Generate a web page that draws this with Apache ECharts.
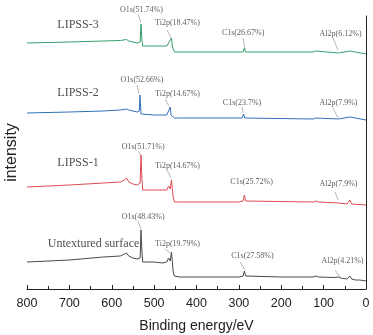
<!DOCTYPE html>
<html><head><meta charset="utf-8">
<script src="https://cdn.jsdelivr.net/npm/echarts@6/dist/echarts.min.js"></script>
<style>html,body{margin:0;padding:0;background:#fff}#c{width:373px;height:335px}</style>
</head><body><div id="c"></div>
<script>
// Binding energy (eV) and stacked intensity (a.u.) for each spectrum
const untextured = [[800,27],[700,29],[620,32],[580,33],[570,35],[565,36],[560,33],[550,31],[540,30],[536,28],[533,31],[531,59],[529,39],[527,27],[500,27],[480,26],[470,27],[466,31],[462,28],[459,37],[457,27],[455,17],[452,13],[440,12],[400,12],[300,12],[290,13],[287,18],[284,13],[280,12],[200,12],[125,12],[118,13],[112,12],[75,11.5],[65,12],[60,11],[45,10],[38,13],[34,10],[25,9],[15,9],[0,8]];
const lipss1 = [[800,102],[700,104],[620,106],[580,107],[570,109],[565,111],[560,107],[550,105],[540,104],[536,102],[533,106],[531,134],[529,112],[527,99],[500,99],[470,99],[466,103],[462,100],[459,109],[457,100],[455,92],[452,87],[440,87],[300,87],[290,88],[287,94],[284,88],[280,87],[125,87],[118,88],[112,87],[65,86],[45,85],[38,89],[34,85],[0,84]];
const lipss2 = [[800,176],[700,177],[620,178],[580,179],[565,180],[560,179],[550,178],[540,177],[537,176],[535,178],[533.5,194],[531,175],[528,174],[500,174],[470,174],[467,177],[464,175],[462,182],[460,174],[457,172],[452,171],[440,171],[300,171],[292,171],[289,175],[286,171],[125,170],[118,171],[65,170],[38,172],[34,170],[0,169]];
const lipss3 = [[800,246],[700,247],[620,248],[580,248.5],[565,249.5],[560,248],[540,246],[536,245],[533,247],[531,265],[529,250],[527,243],[500,243],[470,243],[466,246],[462,244],[459,251],[457,243],[455,240],[452,237],[300,237],[290,237],[287,241],[284,237],[125,237],[118,238],[65,236],[38,238],[34,236],[0,235]];

const seriesNames = [[679.6,264,'LIPSS-3'],[679.6,196,'LIPSS-2'],[679.6,126,'LIPSS-1'],[643,45,'Untextured surface']];
const peakLabels = [
  [529.8,279,'O1s(51.74%)'],[444.8,266,'Ti2p(18.47%)'],[290,256,'C1s(26.67%)'],[60,255,'Al2p(6.12%)'],
  [528.6,209,'O1s(52.66%)'],[444.8,195,'Ti2p(14.67%)'],[292.6,186,'C1s(23.7%)'],[64.9,186,'Al2p(7.9%)'],
  [526,142,'O1s(51.71%)'],[444.8,123,'Ti2p(14.67%)'],[270,107,'C1s(25.72%)'],[64.9,105,'Al2p(7.9%)'],
  [526,72,'O1s(48.43%)'],[444.8,45,'Ti2p(19.79%)'],[268,33,'C1s(27.58%)'],[55.5,28,'Al2p(4.21%)']
];
const leaders = [
  [[538,275],[531,266]],[[469.6,259],[460,251]],[[290,251],[285.5,240]],[[77.8,251],[66,239]],
  [[540,204],[535.7,195]],[[474,190],[464.9,183]],[[292.6,182],[290,176]],[[77.8,181],[66,171]],
  [[538,138],[531,133]],[[469.6,119],[460,111]],[[73,97],[66,89]],
  [[538,68],[531,60]],[[474,40],[462.5,36]],[[297,27],[285.5,19]],[[73,19],[61,12]]
];
const xTicks = {min:0, max:800, interval:100};

const chart = echarts.init(document.getElementById('c'), null, {renderer:'canvas'});
function spec(data, color){
  return {type:'line', data, showSymbol:false, symbol:'none', silent:true,
    lineStyle:{color, width:1}, itemStyle:{color}, z:3};
}
chart.setOption({
  animation:false,
  grid:{left:27, right:7, top:16, bottom:46, containLabel:false, outerBoundsMode:'none'},
  xAxis:{type:'value', inverse:true, min:xTicks.min, max:xTicks.max, interval:xTicks.interval,
    name:'Binding energy/eV', nameLocation:'middle', nameGap:30,
    nameTextStyle:{fontFamily:'Liberation Sans, Arial', fontSize:14, color:'#222'},
    axisLine:{lineStyle:{color:'#222', width:1}},
    axisTick:{inside:true, length:4, lineStyle:{color:'#222'}},
    minorTick:{show:true, splitNumber:2, length:3, lineStyle:{color:'#222'}},
    splitLine:{show:false},
    axisLabel:{fontFamily:'Liberation Sans, Arial', fontSize:12.5, color:'#222', margin:8}
  },
  yAxis:{type:'value', min:0, max:273,
    name:'intensity', nameLocation:'middle', nameGap:7, nameRotate:90,
    nameTextStyle:{fontFamily:'Liberation Sans, Arial', fontSize:16, color:'#222'},
    axisLine:{show:true, lineStyle:{color:'#222', width:1}},
    axisTick:{show:false}, axisLabel:{show:false}, splitLine:{show:false}
  },
  series:[
    spec(lipss3,'#35a06c'),
    spec(lipss2,'#2f6fb7'),
    spec(lipss1,'#de4b52'),
    spec(untextured,'#4a4a4a'),
    {type:'lines', coordinateSystem:'cartesian2d', silent:true, z:2, clip:false,
      data:leaders.map(c=>({coords:c})),
      lineStyle:{color:'#999', width:0.7, opacity:1}},
    {type:'scatter', silent:true, symbolSize:0, z:4, clip:false,
      data:peakLabels,
      label:{show:true, position:'inside', formatter:p=>p.value[2],
        fontFamily:'Liberation Serif, Times New Roman', fontSize:8, color:'#333'}},
    {type:'scatter', silent:true, symbolSize:0, z:4, clip:false,
      data:seriesNames,
      label:{show:true, position:'inside', formatter:p=>p.value[2],
        fontFamily:'Liberation Serif, Times New Roman', fontSize:12, color:'#222'}}
  ]
});
</script></body></html>
